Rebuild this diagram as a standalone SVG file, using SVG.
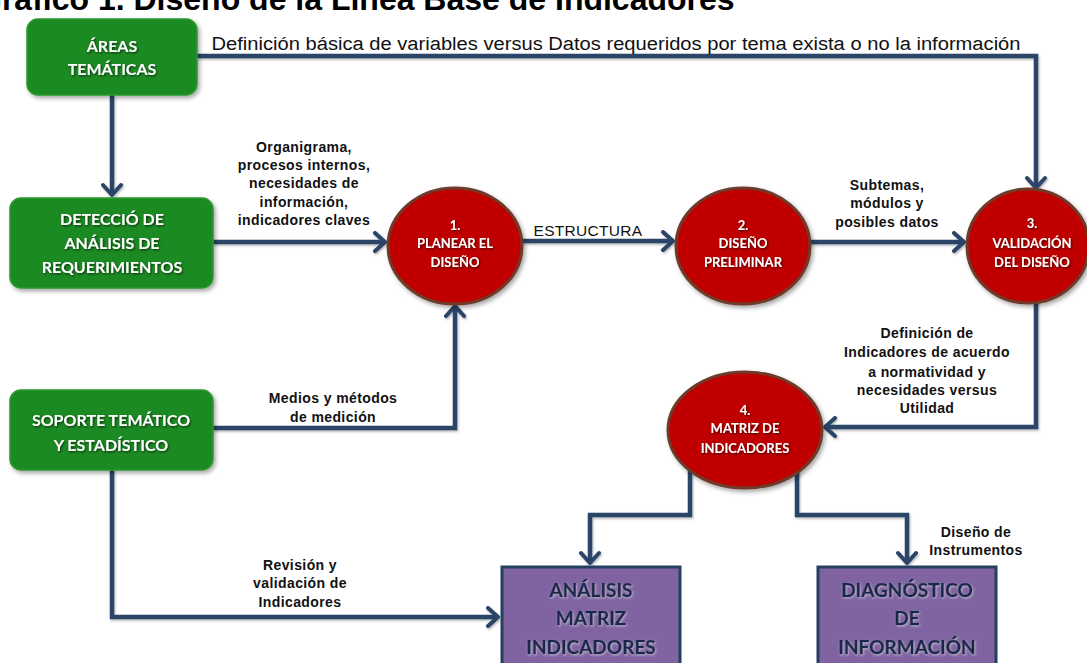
<svg xmlns="http://www.w3.org/2000/svg" width="1087" height="663" viewBox="0 0 1087 663">
<style>
.title{font-family:"Liberation Sans",Arial,sans-serif;font-weight:bold;font-size:32px;fill:#000}
.green{fill:#1f8a22;stroke:#2a9a2c;stroke-width:1.5}
.red{fill:#c00000;stroke:#6e3b2a;stroke-width:3}
.purple{fill:#8064a2;stroke:#243f60;stroke-width:3}
.wt{font-family:Lato,"Open Sans",sans-serif;font-weight:bold;fill:#fff;text-anchor:middle;filter:url(#ds)}
.pt{font-family:Lato,"Open Sans",sans-serif;font-weight:bold;fill:#1a2850;stroke:#1a2850;stroke-width:0.6;text-anchor:middle;font-size:19px;filter:url(#glow)}
.lbl{font-family:"Liberation Sans",Arial,sans-serif;font-weight:bold;font-size:14px;fill:#111;text-anchor:middle;letter-spacing:0.4px}
.conn{fill:none;stroke:#2b4468;stroke-width:4.5;stroke-linejoin:miter;marker-end:url(#arr);filter:url(#ls)}
</style>
<defs>
<filter id="ds" x="-10%" y="-30%" width="130%" height="170%"><feDropShadow dx="1" dy="1.2" stdDeviation="0.8" flood-color="#000" flood-opacity="0.65"/></filter>
<filter id="glow" x="-10%" y="-30%" width="130%" height="170%"><feDropShadow dx="0.8" dy="1" stdDeviation="0.8" flood-color="#fff" flood-opacity="0.5"/></filter>
<filter id="ls" filterUnits="userSpaceOnUse" x="0" y="0" width="1087" height="663"><feDropShadow dx="1" dy="1.5" stdDeviation="1.2" flood-color="#000" flood-opacity="0.3"/></filter>
<filter id="ss" x="-10%" y="-10%" width="125%" height="125%"><feDropShadow dx="2" dy="2.5" stdDeviation="2" flood-color="#000" flood-opacity="0.35"/></filter>
<marker id="arr" viewBox="-13 -11 16 22" markerWidth="16" markerHeight="22" refX="0" refY="0" orient="auto" markerUnits="userSpaceOnUse">
<path d="M-10,-9 L0,0 L-10,9" fill="none" stroke="#2b4468" stroke-width="4" stroke-linecap="round" stroke-linejoin="round"/>
</marker>
</defs>
<rect width="1087" height="663" fill="#fff"/>
<text class="title" x="-23" y="10">Gráfico 1. Diseño de la Línea Base de Indicadores</text>

<g id="connectors">
<path class="conn" d="M112,95 V195"/>
<path class="conn" d="M197,56 H1036 V188"/>
<path class="conn" d="M213,242 H385"/>
<path class="conn" d="M522,241 H673"/>
<path class="conn" d="M810,242 H964"/>
<path class="conn" d="M213,428 H455 V306"/>
<path class="conn" d="M1036,300 V427 H825"/>
<path class="conn" d="M112,470 V617 H498"/>
<path class="conn" d="M690,470 V515 H590 V563"/>
<path class="conn" d="M797,470 V515 H907 V563"/>
<text class="lbl" x="616" y="50" textLength="809" lengthAdjust="spacingAndGlyphs" style="font-weight:normal;font-size:18px;letter-spacing:0">Definición básica de variables versus Datos requeridos por tema exista o no la información</text>
<text class="lbl"><tspan x="304" y="152">Organigrama,</tspan><tspan x="304" y="170">procesos internos,</tspan><tspan x="304" y="188">necesidades de</tspan><tspan x="304" y="207">información,</tspan><tspan x="304" y="225">indicadores claves</tspan></text>
<text class="lbl" x="588" y="236" style="font-weight:normal;font-size:15.5px;letter-spacing:0.3px">ESTRUCTURA</text>
<text class="lbl"><tspan x="887" y="190">Subtemas,</tspan><tspan x="887" y="208">módulos y</tspan><tspan x="887" y="227">posibles datos</tspan></text>
<text class="lbl"><tspan x="927" y="338">Definición de</tspan><tspan x="927" y="357">Indicadores de acuerdo</tspan><tspan x="927" y="377">a normatividad  y</tspan><tspan x="927" y="395">necesidades versus</tspan><tspan x="927" y="413">Utilidad</tspan></text>
<text class="lbl"><tspan x="333" y="403">Medios y métodos</tspan><tspan x="333" y="422">de medición</tspan></text>
<text class="lbl"><tspan x="300" y="570">Revisión  y</tspan><tspan x="300" y="588">validación de</tspan><tspan x="300" y="607">Indicadores</tspan></text>
<text class="lbl"><tspan x="976" y="537">Diseño de</tspan><tspan x="976" y="555">Instrumentos</tspan></text>
</g>

<g id="areas">
<rect class="green" x="27" y="19" width="170" height="76" rx="11" filter="url(#ss)"/>
<text class="wt" font-size="16"><tspan x="112" y="52">ÁREAS</tspan><tspan x="112" y="75">TEMÁTICAS</tspan></text>
</g>
<g id="deteccion">
<rect class="green" x="10" y="198" width="203" height="90" rx="11" filter="url(#ss)"/>
<text class="wt" font-size="16"><tspan x="112" y="225">DETECCIÓ DE</tspan><tspan x="112" y="249">ANÁLISIS DE</tspan><tspan x="112" y="273">REQUERIMIENTOS</tspan></text>
</g>
<g id="soporte">
<rect class="green" x="10" y="390" width="203" height="80" rx="11" filter="url(#ss)"/>
<text class="wt" font-size="16"><tspan x="111" y="426">SOPORTE TEMÁTICO</tspan><tspan x="111" y="451">Y ESTADÍSTICO</tspan></text>
</g>
<g id="c1">
<ellipse class="red" cx="455" cy="246" rx="67" ry="58" filter="url(#ss)"/>
<text class="wt" font-size="13"><tspan x="455" y="230">1.</tspan><tspan x="455" y="248">PLANEAR EL</tspan><tspan x="455" y="267">DISEÑO</tspan></text>
</g>
<g id="c2">
<ellipse class="red" cx="743" cy="246" rx="67" ry="58" filter="url(#ss)"/>
<text class="wt" font-size="13"><tspan x="743" y="230">2.</tspan><tspan x="743" y="248">DISEÑO</tspan><tspan x="743" y="267">PRELIMINAR</tspan></text>
</g>
<g id="c3">
<ellipse class="red" cx="1028" cy="246" rx="61" ry="57" filter="url(#ss)"/>
<text class="wt" font-size="13"><tspan x="1032" y="228">3.</tspan><tspan x="1032" y="248">VALIDACIÓN</tspan><tspan x="1032" y="267">DEL DISEÑO</tspan></text>
</g>
<g id="c4">
<ellipse class="red" cx="745" cy="430" rx="77" ry="58" filter="url(#ss)"/>
<text class="wt" font-size="13"><tspan x="745" y="415">4.</tspan><tspan x="745" y="433">MATRIZ DE</tspan><tspan x="745" y="453">INDICADORES</tspan></text>
</g>
<g id="analisis">
<rect class="purple" x="502" y="567" width="178" height="110"/>
<text class="pt"><tspan x="591" y="597">ANÁLISIS</tspan><tspan x="591" y="625">MATRIZ</tspan><tspan x="591" y="654">INDICADORES</tspan></text>
</g>
<g id="diagnostico">
<rect class="purple" x="818" y="567" width="178" height="110"/>
<text class="pt"><tspan x="907" y="597">DIAGNÓSTICO</tspan><tspan x="907" y="625">DE</tspan><tspan x="907" y="654">INFORMACIÓN</tspan></text>
</g>
</svg>
